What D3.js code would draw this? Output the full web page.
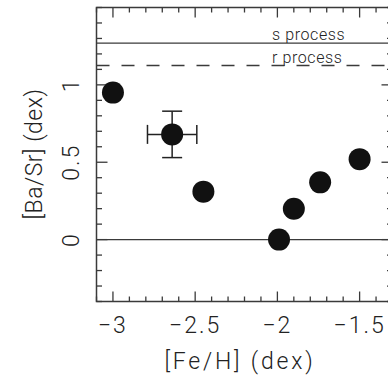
<!DOCTYPE html>
<html>
<head>
<meta charset="utf-8">
<script src="https://cdn.jsdelivr.net/npm/d3@7"></script>
<style>
  html, body { margin: 0; padding: 0; background: #fff; }
  svg { display: block; }
  text { font-family: Roboto, "DejaVu Sans", sans-serif; font-weight: 300; fill: #222; }
</style>
</head>
<body>
<svg id="chart" width="388" height="379"></svg>
<script>
// ---- data ----
const feH   = [-3.00, -2.64, -2.45, -1.99, -1.90, -1.74, -1.50];
const baSr  = [ 0.95,  0.68,  0.31,  0.00,  0.20,  0.37,  0.52];
const xErr  = [ 0,     0.15,  0,     0,     0,     0,     0   ];
const yErr  = [ 0,     0.15,  0,     0,     0,     0,     0   ];
const xTicks = [-3, -2.5, -2, -1.5];
const yTicks = [0, 0.5, 1];
const refNames  = ["s process", "r process"];
const refValues = [1.27, 1.125];
const zeroLevel = 0;

// ---- layout ----
const svg = d3.select("#chart");
const pLeft = 96.5, pRight = 392.5, pTop = 7.5, pBottom = 301.5;
const x = d3.scaleLinear().domain([-3.1, -1.3]).range([pLeft, pRight]);
const y = d3.scaleLinear().domain([-0.4, 1.5]).range([pBottom, pTop]);
const lineCol = "#3a3a3a";
const refDash = [null, "13,12"];
const fmt = d => (d < 0 ? "\u2212" : "") + Math.abs(d);

const xMinor = d3.range(-31, -12).map(i => i / 10);
const yMinor = d3.range(-4, 16).map(i => i / 10);

function isMajor(v, arr) { return arr.some(t => Math.abs(t - v) < 1e-6); }
const g = svg.append("g").attr("stroke", lineCol).attr("stroke-width", 1.3);
xMinor.forEach(v => {
  const L = isMajor(v, xTicks) ? 10 : 5;
  g.append("line").attr("x1", x(v)).attr("x2", x(v)).attr("y1", pBottom).attr("y2", pBottom - L);
  g.append("line").attr("x1", x(v)).attr("x2", x(v)).attr("y1", pTop).attr("y2", pTop + L);
});
yMinor.forEach(v => {
  const L = isMajor(v, yTicks) ? 11 : 5.5;
  g.append("line").attr("x1", pLeft).attr("x2", pLeft + L).attr("y1", y(v)).attr("y2", y(v));
  g.append("line").attr("x1", pRight).attr("x2", pRight - L).attr("y1", y(v)).attr("y2", y(v));
});

// frame
svg.append("rect").attr("x", pLeft).attr("y", pTop).attr("width", pRight - pLeft).attr("height", pBottom - pTop)
  .attr("fill", "none").attr("stroke", lineCol).attr("stroke-width", 1.5);

// reference lines
svg.append("line").attr("x1", pLeft).attr("x2", pRight).attr("y1", y(zeroLevel)).attr("y2", y(zeroLevel))
  .attr("stroke", lineCol).attr("stroke-width", 1.4);
refValues.forEach((v, i) => {
  svg.append("line").attr("x1", pLeft).attr("x2", pRight).attr("y1", y(v)).attr("y2", y(v))
    .attr("stroke", lineCol).attr("stroke-width", 1.4)
    .attr("stroke-dasharray", refDash[i]);
  svg.append("text").attr("x", 272).attr("y", y(v) - 3)
    .attr("font-size", 16).attr("letter-spacing", 0.6).text(refNames[i]);
});

// error bars
const eb = svg.append("g").attr("stroke", "#222").attr("stroke-width", 1.5);
feH.forEach((fx, i) => {
  if (xErr[i] > 0) {
    eb.append("line").attr("x1", x(fx - xErr[i])).attr("x2", x(fx + xErr[i])).attr("y1", y(baSr[i])).attr("y2", y(baSr[i]));
    [fx - xErr[i], fx + xErr[i]].forEach(v =>
      eb.append("line").attr("x1", x(v)).attr("x2", x(v)).attr("y1", y(baSr[i]) - 9.5).attr("y2", y(baSr[i]) + 9.5));
  }
  if (yErr[i] > 0) {
    eb.append("line").attr("x1", x(fx)).attr("x2", x(fx)).attr("y1", y(baSr[i] - yErr[i])).attr("y2", y(baSr[i] + yErr[i]));
    [baSr[i] - yErr[i], baSr[i] + yErr[i]].forEach(v =>
      eb.append("line").attr("x1", x(fx) - 10).attr("x2", x(fx) + 10).attr("y1", y(v)).attr("y2", y(v)));
  }
});

// points
svg.append("g").selectAll("circle").data(feH).join("circle")
  .attr("cx", d => x(d)).attr("cy", (d, i) => y(baSr[i])).attr("r", 11)
  .attr("fill", "#111");

// tick labels
svg.append("g").selectAll("text").data(xTicks).join("text")
  .attr("x", d => x(d)).attr("y", 333).attr("text-anchor", "middle")
  .attr("font-size", 23).attr("letter-spacing", 2).text(fmt);
svg.append("g").selectAll("text").data(yTicks).join("text")
  .attr("transform", d => `translate(79,${y(d)}) rotate(-90)`)
  .attr("text-anchor", "middle").attr("font-size", 23).attr("letter-spacing", 2).text(fmt);

// axis titles
svg.append("text").attr("x", 240).attr("y", 369).attr("text-anchor", "middle")
  .attr("font-size", 23).attr("letter-spacing", 2.8).text("[Fe/H] (dex)");
svg.append("text").attr("transform", `translate(42,154) rotate(-90)`)
  .attr("text-anchor", "middle").attr("font-size", 23).attr("letter-spacing", 0.5).text("[Ba/Sr] (dex)");
</script>
</body>
</html>
